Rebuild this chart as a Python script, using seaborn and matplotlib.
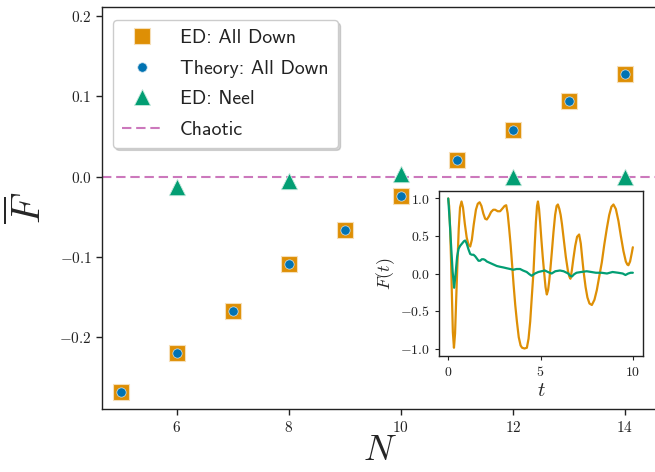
import numpy as np
import pandas as pd
import matplotlib
matplotlib.use("Agg")
import matplotlib.pyplot as plt
from matplotlib.ticker import FuncFormatter, FixedLocator
from matplotlib.lines import Line2D
import seaborn as sns

# ---------------- data ----------------
N_all = [5, 6, 7, 8, 9, 10, 11, 12, 13, 14]
ed_all_down = [-0.269, -0.220, -0.167, -0.109, -0.066, -0.024, 0.021, 0.058, 0.094, 0.128]
theory_all_down = [-0.269, -0.220, -0.167, -0.109, -0.066, -0.024, 0.021, 0.058, 0.094, 0.128]
N_neel = [6, 8, 10, 12, 14]
ed_neel = [-0.0125, -0.005, 0.003, 0.0, 0.0]
chaotic_level = 0.0

t_all = [0.00, 0.05, 0.10, 0.15, 0.20, 0.25, 0.31, 0.37, 0.43, 0.50, 0.57, 0.64, 0.72, 0.80, 0.90,
         1.00, 1.10, 1.19, 1.28, 1.38, 1.50, 1.60, 1.70, 1.80, 1.90, 2.00, 2.09, 2.20, 2.32, 2.44,
         2.54, 2.68, 2.81, 2.95, 3.05, 3.14, 3.22, 3.30, 3.38, 3.46, 3.54, 3.63, 3.72, 3.82, 3.92,
         4.00, 4.13, 4.26, 4.35, 4.44, 4.53, 4.62, 4.69, 4.75, 4.81, 4.86, 4.92, 4.98, 5.04, 5.12,
         5.20, 5.27, 5.34, 5.41, 5.47, 5.54, 5.61, 5.70, 5.79, 5.87, 5.94, 6.02, 6.09, 6.16, 6.26,
         6.37, 6.48, 6.56, 6.62, 6.70, 6.78, 6.88, 6.98, 7.09, 7.18, 7.26, 7.33, 7.44, 7.54, 7.65,
         7.78, 7.92, 8.05, 8.18, 8.32, 8.45, 8.59, 8.72, 8.84, 8.95, 9.08, 9.22, 9.35, 9.49, 9.62,
         9.70, 9.76, 9.85, 9.94, 10.00]
F_all = [1.00, 0.90, 0.62, 0.20, -0.30, -0.78, -0.99, -0.80, -0.35, 0.15, 0.60, 0.88, 0.96, 0.88, 0.66,
         0.48, 0.38, 0.36, 0.45, 0.65, 0.85, 0.93, 0.95, 0.90, 0.80, 0.73, 0.72, 0.76, 0.82, 0.85,
         0.85, 0.83, 0.83, 0.87, 0.90, 0.91, 0.80, 0.60, 0.38, 0.12, -0.15, -0.42, -0.64, -0.85, -0.96,
         -0.99, -1.00, -0.99, -0.87, -0.64, -0.30, 0.03, 0.40, 0.69, 0.90, 0.96, 0.86, 0.68, 0.47, 0.22,
         0.00, -0.18, -0.28, -0.22, -0.10, 0.08, 0.28, 0.55, 0.78, 0.90, 0.92, 0.86, 0.78, 0.66, 0.45,
         0.22, 0.04, -0.04, -0.07, 0.05, 0.20, 0.37, 0.49, 0.52, 0.40, 0.20, 0.03, -0.18, -0.32, -0.40,
         -0.42, -0.35, -0.22, -0.04, 0.15, 0.38, 0.60, 0.78, 0.89, 0.92, 0.86, 0.70, 0.50, 0.30, 0.16,
         0.12, 0.11, 0.16, 0.27, 0.35]

t_neel = [0.00, 0.08, 0.16, 0.24, 0.32, 0.40, 0.48, 0.56, 0.65, 0.75, 0.85, 0.92, 1.00, 1.10, 1.19,
          1.28, 1.37, 1.46, 1.55, 1.64, 1.73, 1.82, 1.91, 2.00, 2.09, 2.18, 2.27, 2.45, 2.63, 2.80,
          3.00, 3.17, 3.35, 3.53, 3.70, 3.89, 4.05, 4.25, 4.40, 4.52, 4.70, 4.88, 5.05, 5.24, 5.40,
          5.60, 5.80, 6.05, 6.25, 6.50, 6.60, 6.70, 6.82, 6.95, 7.20, 7.50, 7.75, 8.00, 8.30, 8.60,
          8.90, 9.20, 9.45, 9.60, 9.75, 9.88, 10.00]
F_neel = [1.00, 0.70, 0.35, 0.02, -0.19, 0.00, 0.22, 0.33, 0.37, 0.40, 0.43, 0.44, 0.40, 0.32, 0.26,
          0.25, 0.25, 0.23, 0.20, 0.17, 0.17, 0.19, 0.19, 0.18, 0.16, 0.15, 0.14, 0.12, 0.10, 0.09,
          0.08, 0.07, 0.06, 0.05, 0.06, 0.06, 0.04, 0.02, -0.01, -0.03, 0.00, 0.02, 0.03, 0.04, 0.02,
          0.00, 0.03, 0.04, 0.03, 0.00, -0.03, -0.04, -0.01, 0.01, 0.02, 0.03, 0.02, 0.01, 0.01, 0.00,
          0.02, 0.01, 0.00, -0.02, 0.00, 0.01, 0.01]

main_xticks = [6, 8, 10, 12, 14]
main_yticks = [-0.2, -0.1, 0.0, 0.1, 0.2]
inset_xticks = [0, 5, 10]
inset_yticks = [-1.0, -0.5, 0.0, 0.5, 1.0]

# ---------------- style ----------------
sns.set_style("ticks")
plt.rcParams["mathtext.fontset"] = "cm"
plt.rcParams["font.family"] = ["DejaVu Sans"]

ORANGE = "#de8f05"
BLUE = "#0173b2"
GREEN = "#029e73"
PINK = "#cc78bc"

fig = plt.figure(figsize=(6.55, 4.72), dpi=100)
W, H = 655, 472
ax = fig.add_axes([102.3 / W, (H - 409.3) / H, (657 - 102.3) / W, (409.3 - 7.3) / H])

ax.axhline(chaotic_level, color=PINK, lw=1.5, ls=(0, (4.5, 2.3)), zorder=1)
sns.scatterplot(x=N_all, y=ed_all_down, marker="s", color=ORANGE, s=135,
                edgecolor="#f6dfb8", linewidth=0.8, ax=ax, zorder=3)
sns.scatterplot(x=N_all, y=theory_all_down, marker="o", color=BLUE, s=45,
                edgecolor="#cfe3f0", linewidth=0.5, ax=ax, zorder=4)
sns.scatterplot(x=N_neel, y=ed_neel, marker="^", color=GREEN, s=140,
                edgecolor="#c8eadf", linewidth=0.6, ax=ax, zorder=3)

ax.set_xlim(4.67, 14.575)
ax.set_ylim(-0.29, 0.211)
ax.xaxis.set_major_locator(FixedLocator(main_xticks))
ax.yaxis.set_major_locator(FixedLocator(main_yticks))
ax.xaxis.set_major_formatter(FuncFormatter(lambda v, p: r"$%d$" % round(v)))
ax.yaxis.set_major_formatter(FuncFormatter(lambda v, p: r"$%.1f$" % v))
ax.tick_params(axis="both", labelsize=11, direction="out", length=4, width=1, colors="#222222")
for sp in ax.spines.values():
    sp.set_linewidth(1.0)
    sp.set_color("#222222")
ax.set_xlabel(r"$N$", fontsize=26, labelpad=-1)
ax.set_ylabel(r"$\overline{F}$", fontsize=29, labelpad=6)

handles = [
    Line2D([], [], ls="none", marker="s", markersize=11.5, markerfacecolor=ORANGE,
           markeredgecolor="#f6dfb8", markeredgewidth=0.8),
    Line2D([], [], ls="none", marker="o", markersize=6.8, markerfacecolor=BLUE,
           markeredgecolor="#cfe3f0", markeredgewidth=0.5),
    Line2D([], [], ls="none", marker="^", markersize=11.8, markerfacecolor=GREEN,
           markeredgecolor="#c8eadf", markeredgewidth=0.6),
    Line2D([], [], color=PINK, lw=1.5, ls=(0, (4.5, 2.3))),
]
labels = ["ED: All Down", "Theory: All Down", "ED: Neel", "Chaotic"]
leg = ax.legend(handles, labels, loc="upper left", bbox_to_anchor=(0.0187, 0.968),
                borderaxespad=0, prop={"family": "cmss10", "size": 14.3},
                labelspacing=0.63, handlelength=2.1, handletextpad=0.85,
                borderpad=0.45, fancybox=True, framealpha=1.0, edgecolor="0.8",
                shadow={"alpha": 0.22})
for txt in leg.get_texts():
    txt.set_color("#222222")
leg.set_zorder(10)

# ---------------- inset ----------------
axin = fig.add_axes([439 / W, (H - 356) / H, 204 / W, 165 / H])
df_all = pd.DataFrame({"t": t_all, "F": F_all})
df_neel = pd.DataFrame({"t": t_neel, "F": F_neel})
sns.lineplot(data=df_all, x="t", y="F", color=ORANGE, lw=1.6, ax=axin, sort=False, estimator=None)
sns.lineplot(data=df_neel, x="t", y="F", color=GREEN, lw=1.6, ax=axin, sort=False, estimator=None)
axin.set_xlim(-0.5, 10.55)
axin.set_ylim(-1.1, 1.1)
axin.xaxis.set_major_locator(FixedLocator(inset_xticks))
axin.yaxis.set_major_locator(FixedLocator(inset_yticks))
axin.xaxis.set_major_formatter(FuncFormatter(lambda v, p: r"$%d$" % round(v)))
axin.yaxis.set_major_formatter(FuncFormatter(lambda v, p: r"$%.1f$" % v))
axin.tick_params(axis="both", labelsize=10, direction="out", length=3, width=0.8, colors="#222222")
for sp in axin.spines.values():
    sp.set_linewidth(1.0)
    sp.set_color("#222222")
axin.set_xlabel(r"$t$", fontsize=15, labelpad=1)
axin.set_ylabel(r"$F(t)$", fontsize=13, labelpad=2)

fig.savefig("out.png", dpi=100)
